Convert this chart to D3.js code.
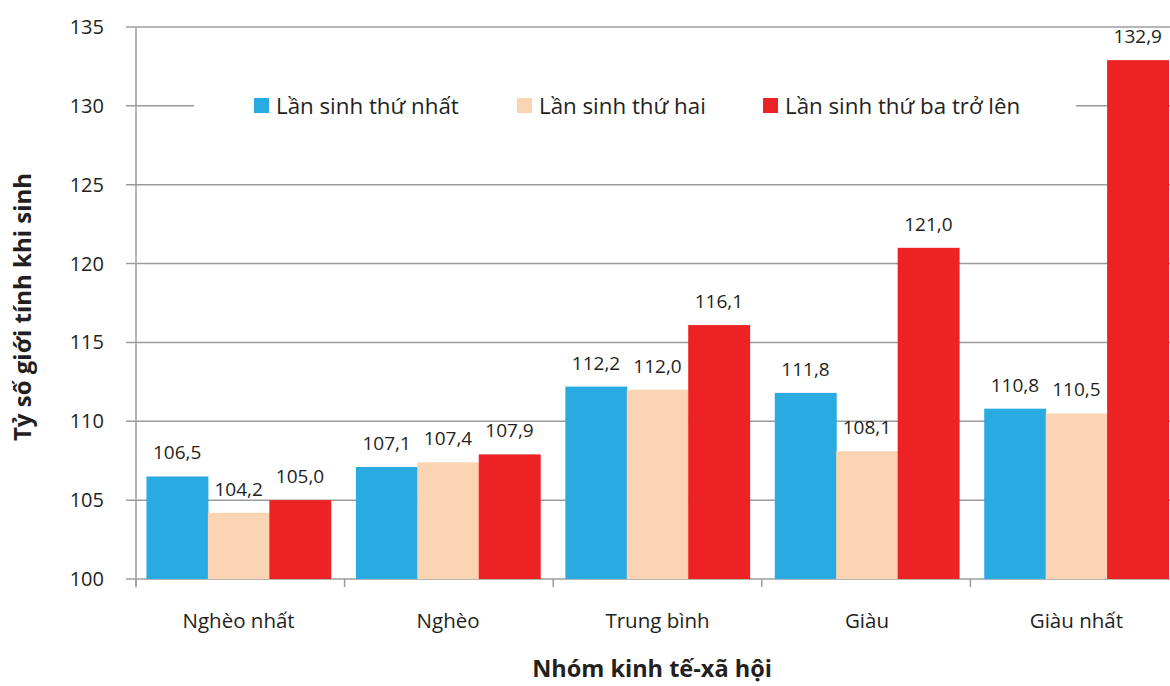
<!DOCTYPE html>
<html>
<head>
<meta charset="utf-8">
<script src="https://cdn.jsdelivr.net/npm/d3@7"></script>
<style>
  body { margin: 0; background: #fff; }
  svg text { font-family: "Open Sans", "Noto Sans", sans-serif; fill: #231f20; }
</style>
</head>
<body>
<div id="chart"></div>
<script>
// dữ liệu
const categories = ["Nghèo nhất", "Nghèo", "Trung bình", "Giàu", "Giàu nhất"];
const seriesNames = ["Lần sinh thứ nhất", "Lần sinh thứ hai", "Lần sinh thứ ba trở lên"];
const firstBirth = [106.5, 107.1, 112.2, 111.8, 110.8];
const secondBirth = [104.2, 107.4, 112.0, 108.1, 110.5];
const thirdBirth = [105.0, 107.9, 116.1, 121.0, 132.9];
const yTicks = [100, 105, 110, 115, 120, 125, 130, 135];
const colors = ["#29abe2", "#fbd4b4", "#ed2224"];

const seriesValues = [firstBirth, secondBirth, thirdBirth];

const width = 1170;
const height = 686;
const plotLeft = 136, plotTop = 27, plotBottom = 579;
const step = 208.6;

const svg = d3.select("#chart")
    .append("svg")
    .attr("width", width)
    .attr("height", height);

const x = d3.scaleBand()
    .domain(categories)
    .range([plotLeft, plotLeft + step * categories.length])
    .paddingInner(0.12)
    .paddingOuter(0.05);

const xSub = d3.scaleBand()
    .domain(d3.range(seriesNames.length))
    .range([0, x.bandwidth()]);

const y = d3.scaleLinear()
    .domain([100, 135])
    .range([plotBottom, plotTop]);

const fmt = v => d3.format(".1f")(v).replace(".", ",");

// lưới ngang
svg.append("g")
    .selectAll("line")
    .data(yTicks)
    .enter()
    .append("line")
    .attr("x1", plotLeft - 10)
    .attr("x2", width)
    .attr("y1", d => y(d))
    .attr("y2", d => y(d))
    .style("stroke", "#9c9c9c")
    .style("stroke-width", 1.5);

// nhãn trục y
svg.append("g")
    .selectAll("text")
    .data(yTicks)
    .enter()
    .append("text")
    .attr("x", 104)
    .attr("y", d => y(d))
    .attr("dy", "0.35em")
    .style("text-anchor", "end")
    .style("font-size", "20px")
    .text(d => d);

// cột
const groups = svg.append("g")
    .selectAll("g")
    .data(categories)
    .enter()
    .append("g")
    .attr("transform", d => `translate(${x(d)},0)`);

groups.selectAll("rect")
    .data((d, i) => seriesValues.map((s, k) => ({ k: k, v: s[i] })))
    .enter()
    .append("rect")
    .attr("x", d => xSub(d.k))
    .attr("width", xSub.bandwidth() + 0.5)
    .attr("y", d => y(d.v))
    .attr("height", d => y(100) - y(d.v))
    .style("fill", d => colors[d.k]);

groups.selectAll("text")
    .data((d, i) => seriesValues.map((s, k) => ({ k: k, v: s[i] })))
    .enter()
    .append("text")
    .attr("x", d => xSub(d.k) + xSub.bandwidth() / 2)
    .attr("y", d => y(d.v) - 17)
    .style("text-anchor", "middle")
    .style("font-size", "19px")
    .text(d => fmt(d.v));

// trục
svg.append("line")
    .attr("x1", plotLeft).attr("x2", plotLeft)
    .attr("y1", plotTop).attr("y2", plotBottom + 8)
    .style("stroke", "#9c9c9c")
    .style("stroke-width", 1.5);

const boundaries = d3.range(categories.length + 1).map(i => plotLeft + step * i);
svg.append("g")
    .selectAll("line")
    .data(boundaries)
    .enter()
    .append("line")
    .attr("x1", d => d).attr("x2", d => d)
    .attr("y1", plotBottom).attr("y2", plotBottom + 8)
    .style("stroke", "#9c9c9c")
    .style("stroke-width", 1.5);

// nhãn nhóm
svg.append("g")
    .selectAll("text")
    .data(categories)
    .enter()
    .append("text")
    .attr("x", d => x(d) + x.bandwidth() / 2)
    .attr("y", 628)
    .style("text-anchor", "middle")
    .style("font-size", "20.5px")
    .text(d => d);

// chú giải
const legend = svg.append("g");
legend.append("rect")
    .attr("x", 194).attr("y", 84)
    .attr("width", 882).attr("height", 46)
    .style("fill", "#fff");

const legendX = [254, 517, 763];
seriesNames.forEach((name, i) => {
    legend.append("rect")
        .attr("x", legendX[i]).attr("y", 98)
        .attr("width", 15).attr("height", 15)
        .style("fill", colors[i]);
    legend.append("text")
        .attr("x", legendX[i] + 22)
        .attr("y", 106)
        .attr("dy", "0.35em")
        .style("font-size", "22.3px")
        .text(name);
});

// tiêu đề trục
svg.append("text")
    .attr("x", 652)
    .attr("y", 677)
    .style("text-anchor", "middle")
    .style("font-size", "23.5px")
    .style("font-weight", "bold")
    .text("Nhóm kinh tế-xã hội");

svg.append("text")
    .attr("transform", "translate(31,307) rotate(-90)")
    .style("text-anchor", "middle")
    .style("font-size", "24px")
    .style("font-weight", "bold")
    .text("Tỷ số giới tính khi sinh");
</script>
</body>
</html>
